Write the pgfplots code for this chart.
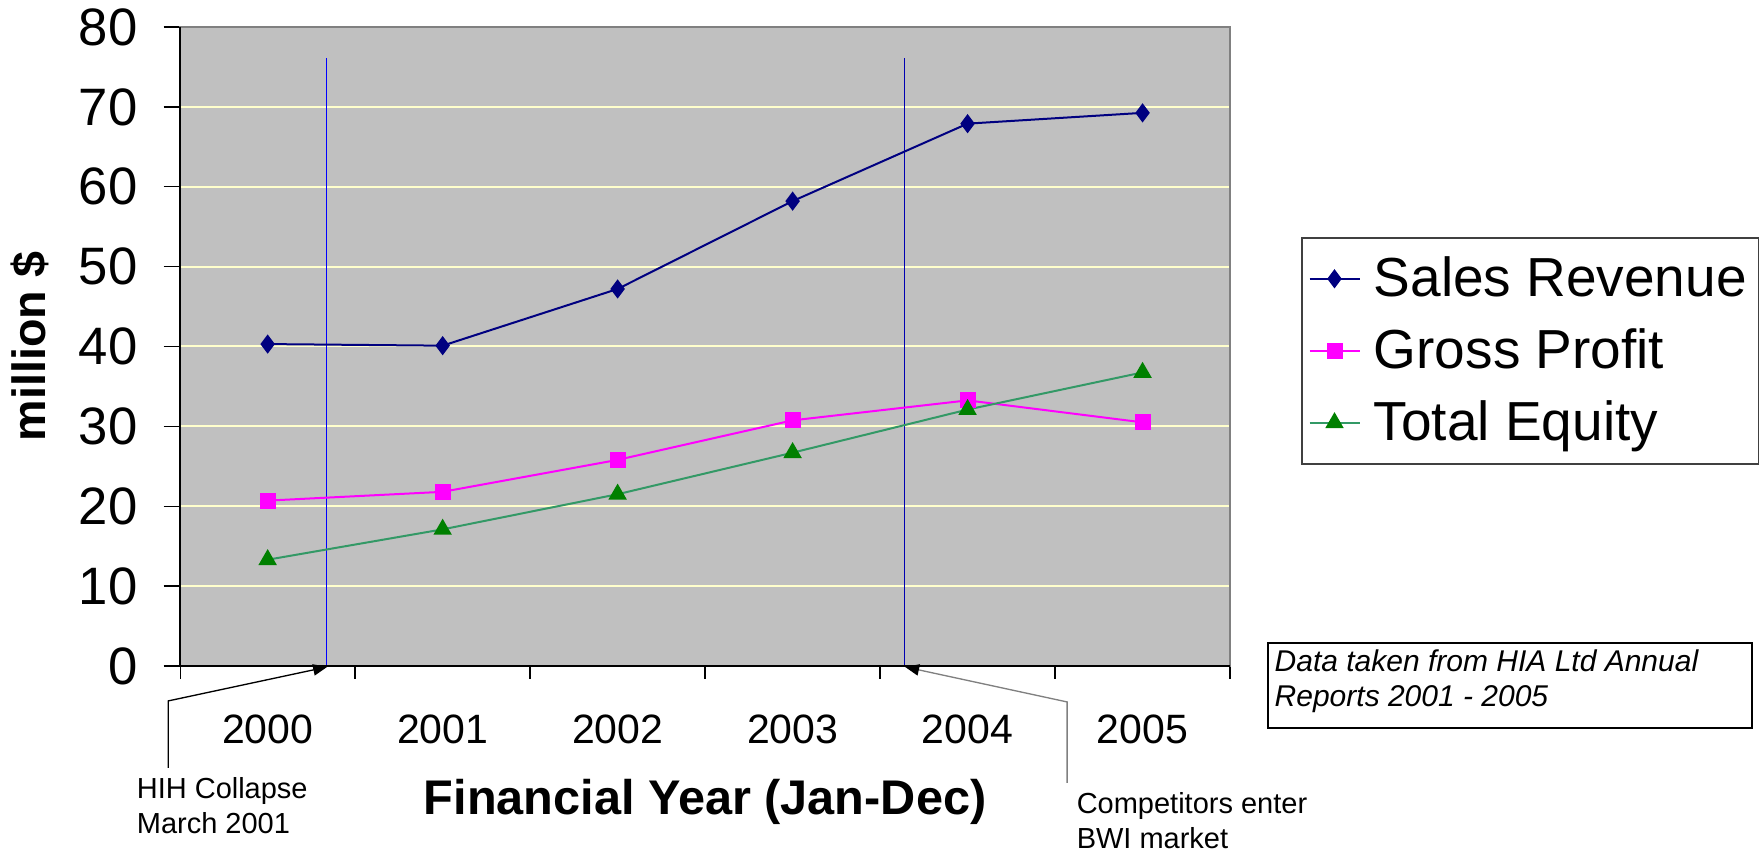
\documentclass[border=0pt]{standalone}
\usepackage{pgfplots}
\pgfplotsset{compat=1.18}
\usepackage{fontspec}
\setmainfont{Liberation Sans}
\usetikzlibrary{arrows.meta}
\definecolor{plotbg}{HTML}{C0C0C0}
\definecolor{gridy}{HTML}{FFFFCC}
\definecolor{salesc}{HTML}{000080}
\definecolor{gpc}{HTML}{FF00FF}
\definecolor{teline}{HTML}{339966}
\definecolor{temark}{HTML}{008000}
\definecolor{vline}{HTML}{0000FF}
\begin{document}
\begin{tikzpicture}
\begin{scope}[shift={(-54pt,199.8pt)},x=0.3pt,y=-0.3pt]
\useasboundingbox (0,0) rectangle (1763,854);
\end{scope}
\begin{axis}[
  scale only axis, width=315pt, height=191.7pt,
  clip=false,
  xmin=-0.5, xmax=5.5, ymin=0, ymax=80,
  xtick={0,1,2,3,4,5}, xticklabels={2000,2001,2002,2003,2004,2005},
  minor xtick={-0.5,0.5,1.5,2.5,3.5,4.5,5.5},
  ytick={0,10,20,30,40,50,60,70,80},
  xtick pos=bottom, ytick pos=left,
  tick align=outside,
  major tick length=5pt, minor tick length=3.9pt,
  major x tick style={draw=none},
  minor x tick style={black, line width=0.4pt},
  major y tick style={black, line width=0.4pt},
  ymajorgrids, major grid style={gridy, line width=0.6pt},
  axis background/.style={fill=plotbg},
  axis line style={draw=gray, line width=0.5pt},
  /pgf/number format/assume math mode=true,
  yticklabel style={font=\fontsize{15.8}{18}\selectfont, inner sep=0pt, anchor=east, xshift=-7.6pt},
  xticklabel style={font=\fontsize{12.3}{14}\selectfont, inner sep=0pt, anchor=north, yshift=-9.6pt},
  every axis x label/.style={at={(axis description cs:0.5,-0.2332)}, anchor=base, font=\bfseries\fontsize{14.6}{17}\selectfont},
  every axis y label/.style={at={(axis description cs:-0.1429,0.5)}, rotate=90, anchor=center, font=\bfseries\fontsize{14}{17}\selectfont},
  xlabel={Financial Year (Jan-Dec)},
  ylabel={million \$},
  legend style={at={(1.0676,0.6714)}, anchor=north west, draw=black!75, line width=0.5pt, fill=white,
    font=\fontsize{16.5}{19.8}\selectfont, row sep=1pt, column sep=2.5pt, inner sep=2pt,
    nodes={inner sep=1.5pt, text height=14pt, text depth=3.6pt}},
  legend cell align=left,
  legend image code/.code={\draw[mark repeat=2,mark phase=2,#1] plot coordinates {(0pt,0pt) (7.5pt,0pt) (15pt,0pt)};},
]
\addplot[vline, line width=0.4pt, forget plot] coordinates {(0.338,0) (0.338,76.1)};
\addplot[vline!70!black, line width=0.35pt, forget plot] coordinates {(3.639,0) (3.639,76.1)};
\addplot[salesc, line width=0.6pt, mark=diamond*, mark size=2.4pt, mark options={solid, fill=salesc, draw=salesc}]
  coordinates {(0,40.3) (1,40.1) (2,47.2) (3,58.2) (4,67.9) (5,69.25)};
\addlegendentry{Sales Revenue}
\addplot[gpc, line width=0.6pt, mark=square*, mark size=2.1pt, mark options={solid, fill=gpc, draw=gpc}]
  coordinates {(0,20.7) (1,21.8) (2,25.8) (3,30.75) (4,33.25) (5,30.5)};
\addlegendentry{Gross Profit}
\addplot[teline, line width=0.6pt, mark=triangle*, mark size=2.6pt, mark options={solid, fill=temark, draw=temark}]
  coordinates {(0,13.3) (1,17.1) (2,21.5) (3,26.7) (4,32.1) (5,36.75)};
\addlegendentry{Total Equity}
\draw[black, line width=0.5pt] (rel axis cs:0,1) -- (rel axis cs:0,0) -- (rel axis cs:1,0);
\end{axis}
\begin{scope}[shift={(-54pt,199.8pt)},x=0.3pt,y=-0.3pt]
\draw[black, line width=0.4pt, -{Triangle[length=4.2pt,width=3.4pt]}] (168,768) -- (168,701) -- (327,667);
\draw[gray, line width=0.4pt, -{Triangle[length=4.2pt,width=3.4pt,color=black]}] (1067,783) -- (1067,702) -- (905,667);
\node[anchor=base west, inner sep=0pt, font=\fontsize{8.7}{10.5}\selectfont] at (136,799) {HIH Collapse};
\node[anchor=base west, inner sep=0pt, font=\fontsize{8.7}{10.5}\selectfont] at (136,834) {March 2001};
\node[anchor=base west, inner sep=0pt, font=\fontsize{8.7}{10.5}\selectfont] at (1076,814) {Competitors enter};
\node[anchor=base west, inner sep=0pt, font=\fontsize{8.7}{10.5}\selectfont] at (1076,849) {BWI market};
\draw[black, line width=0.5pt] (1268,643) rectangle (1752,728);
\node[anchor=base west, inner sep=0pt, font=\itshape\fontsize{9}{10.5}\selectfont] at (1274,672) {Data taken from HIA Ltd Annual};
\node[anchor=base west, inner sep=0pt, font=\itshape\fontsize{9}{10.5}\selectfont] at (1274,707) {Reports 2001 - 2005};
\end{scope}
\end{tikzpicture}
\end{document}
